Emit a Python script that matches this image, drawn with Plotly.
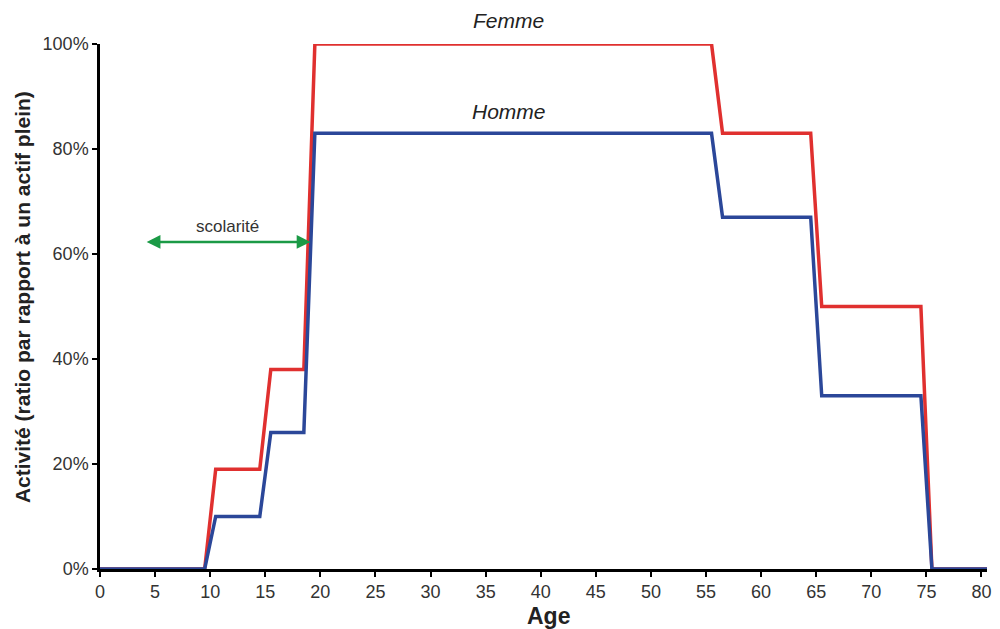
import plotly.graph_objects as go

ages = [0, 9.5, 10.5, 14.5, 15.5, 18.5, 19.5, 55.5, 56.5, 64.5, 65.5, 74.5, 75.5, 80.5]
femme = [0, 0, 19, 19, 38, 38, 100, 100, 83, 83, 50, 50, 0, 0]
homme = [0, 0, 10, 10, 26, 26, 83, 83, 67, 67, 33, 33, 0, 0]
x_ticks = list(range(0, 81, 5))
y_ticks = [0, 20, 40, 60, 80, 100]
y_labels = ["0%", "20%", "40%", "60%", "80%", "100%"]

font = "Liberation Sans, Arial, sans-serif"

fig = go.Figure()
fig.add_trace(go.Scatter(x=ages, y=femme, mode="lines", line=dict(color="#e0302f", width=3.5),
                         name="Femme", showlegend=False, cliponaxis=False))
fig.add_trace(go.Scatter(x=ages, y=homme, mode="lines", line=dict(color="#2b4799", width=3.5),
                         name="Homme", showlegend=False, cliponaxis=False))

fig.add_annotation(x=37.1, y=1.0457, xref="x", yref="paper", text="<i>Femme</i>", showarrow=False,
                   yanchor="middle", font=dict(family=font, size=21, color="#222"))
fig.add_annotation(x=37.1, y=87.2, xref="x", yref="y", text="<i>Homme</i>", showarrow=False,
                   yanchor="middle", font=dict(family=font, size=21, color="#222"))
fig.add_annotation(x=11.6, y=65.3, xref="x", yref="y", text="scolarité", showarrow=False,
                   yanchor="middle", font=dict(family=font, size=17, color="#333"))
fig.add_annotation(x=19.1, y=62.3, ax=4.1, ay=62.3, xref="x", yref="y", axref="x", ayref="y",
                   text="", showarrow=True, arrowhead=2, startarrowhead=2, arrowside="end+start",
                   arrowsize=1.1, arrowwidth=2.5, arrowcolor="#1b9a46", startstandoff=0, standoff=0)

# axis titles
fig.add_annotation(x=0.5051, y=-0.0895, xref="paper", yref="paper", text="<b>Age</b>",
                   showarrow=False, xanchor="center", yanchor="middle",
                   font=dict(family=font, size=23, color="#222"))
fig.add_annotation(x=-0.0879, y=0.518, xref="paper", yref="paper",
                   text="<b>Activité (ratio par rapport à un actif plein)</b>", textangle=-90,
                   showarrow=False, xanchor="center", yanchor="middle",
                   font=dict(family=font, size=21, color="#222"))

fig.update_layout(
    width=992, height=621,
    margin=dict(l=92, r=13, t=36, b=60),
    plot_bgcolor="white", paper_bgcolor="white",
    font=dict(family=font, color="#333"),
)
fig.update_xaxes(range=[0, 80.5], tickvals=x_ticks, ticks="outside", ticklen=5, tickwidth=2,
                 tickcolor="black", showline=True, linecolor="black", linewidth=2.5,
                 showgrid=False, zeroline=False, tickfont=dict(size=18, color="#333"),
                 automargin=False)
fig.update_yaxes(range=[0, 100], tickvals=y_ticks, ticktext=y_labels, ticks="outside", ticklen=5,
                 tickwidth=2, tickcolor="black", showline=True, linecolor="black", linewidth=2.5,
                 showgrid=False, zeroline=False, tickfont=dict(size=18, color="#333"),
                 automargin=False)

fig.write_html("out.html")
